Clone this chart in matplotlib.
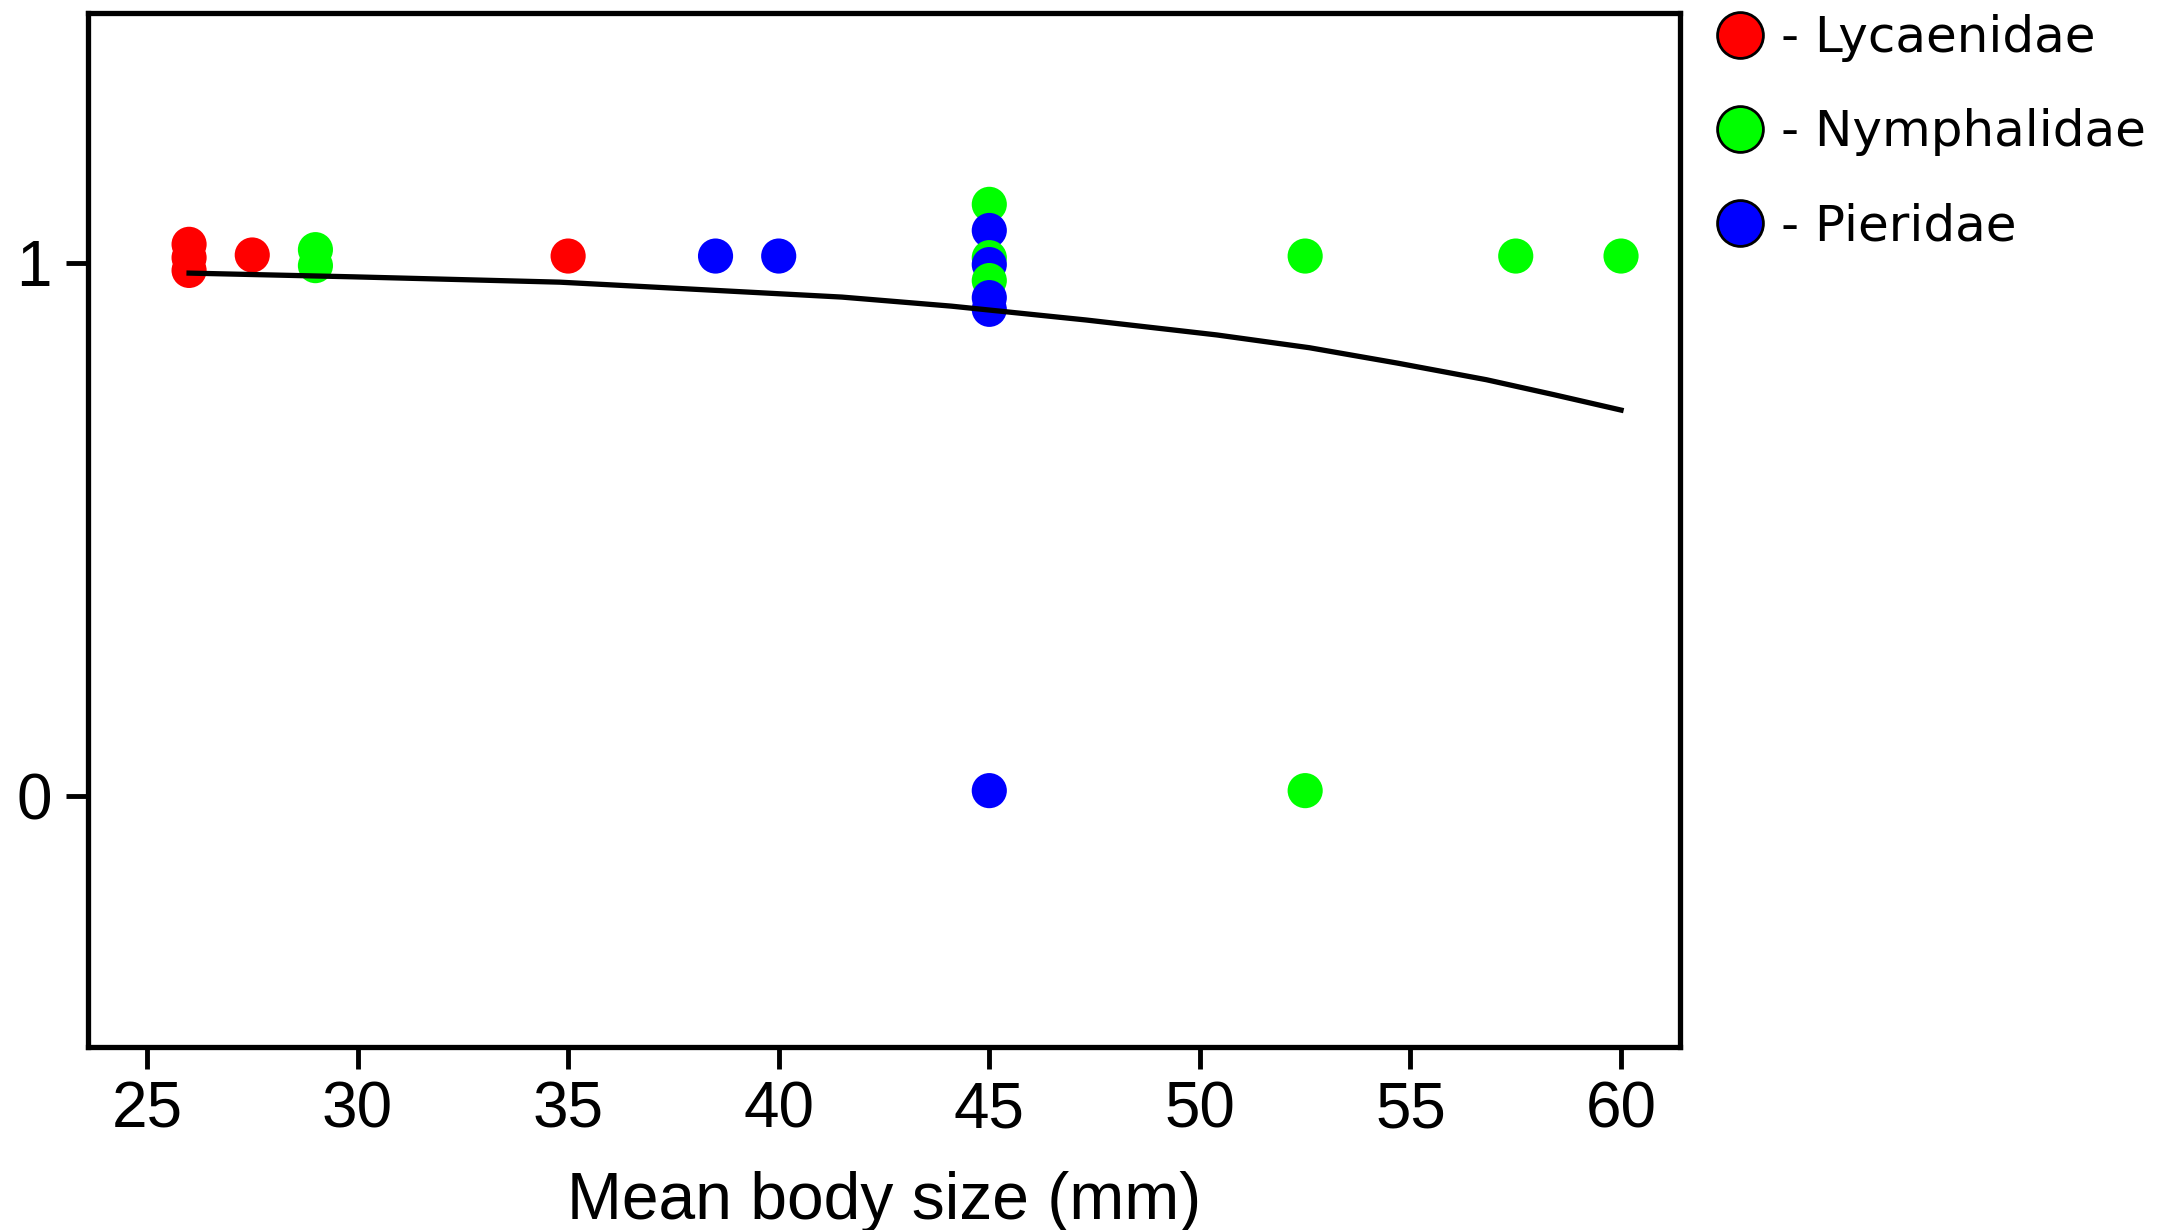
import pandas as pd
import matplotlib.pyplot as plt
from matplotlib.lines import Line2D

# body size (mm) and occurrence (0/1, slightly jittered as drawn)
lyc_x = [26, 26, 26, 27.5, 35]
lyc_y = [1.035, 1.01, 0.986, 1.015, 1.013]

nym_x = [29, 29, 45, 45, 45, 52.5, 57.5, 60, 52.5]
nym_y = [1.025, 0.995, 1.11, 1.01, 0.967, 1.013, 1.013, 1.013, 0.01]

pie_x = [38.5, 40, 45, 45, 45, 45, 45]
pie_y = [1.013, 1.013, 1.061, 0.997, 0.935, 0.913, 0.01]

# fitted curve
fit_x = [26.0, 29.9, 34.8, 38.4, 41.5, 44.1, 47.3, 50.4, 52.6, 54.7, 56.8, 58.4, 60.0]
fit_y = [0.981, 0.974, 0.964, 0.949, 0.936, 0.919, 0.893, 0.865, 0.841, 0.812, 0.781, 0.753, 0.724]

families = ['Lycaenidae', 'Nymphalidae', 'Pieridae']
colors = {'Lycaenidae': '#ff0000', 'Nymphalidae': '#00ff00', 'Pieridae': '#0000ff'}


def build_frame():
    parts = []
    for fam, xs, ys in zip(families, [lyc_x, nym_x, pie_x], [lyc_y, nym_y, pie_y]):
        parts.append(pd.DataFrame({'size': xs, 'occ': ys, 'family': fam}))
    df = pd.concat(parts, ignore_index=True)
    # lower points end up drawn on top, as in the original
    return df.sort_values('occ', ascending=False, kind='stable')


def draw(df):
    fig = plt.figure(figsize=(21.59, 12.30), dpi=100)
    ax = fig.add_axes([88 / 2159, 1 - 1047 / 1230, (1680 - 88) / 2159, (1047 - 13) / 1230])

    ax.scatter(df['size'], df['occ'], s=640, c=[colors[f] for f in df['family']],
               linewidths=0, zorder=2)
    ax.plot(fit_x, fit_y, color='black', lw=3.8, zorder=3, solid_joinstyle='round')

    ax.set_xlim(23.6, 61.4)
    ax.set_ylim(-0.471, 1.469)
    ax.set_xticks([25, 30, 35, 40, 45, 50, 55, 60])
    ax.set_yticks([0, 1])

    for sp in ax.spines.values():
        sp.set_linewidth(3.8)
    ax.tick_params(axis='both', length=16, width=3.5, labelsize=46)
    ax.tick_params(axis='x', pad=8)
    ax.tick_params(axis='y', pad=10)
    for lab in ax.get_xticklabels() + ax.get_yticklabels():
        lab.set_family('Liberation Sans')

    ax.set_xlabel('Mean body size (mm)', fontsize=47.5, family='Liberation Sans', labelpad=22)

    handles = [Line2D([], [], ls='none', marker='o', markersize=33, markerfacecolor=colors[f],
                      markeredgecolor='black', markeredgewidth=2) for f in families]
    ax.legend(handles, ['- ' + f for f in families], loc='upper left',
              bbox_to_anchor=(1.022, 0.999), frameon=False, borderpad=0, borderaxespad=0,
              handlelength=1.0, handletextpad=0.32, labelspacing=0.92,
              prop={'family': 'DejaVu Sans', 'size': 36})

    fig.savefig('out.png', dpi=100, facecolor='white')


if __name__ == "__main__":
    df = build_frame()
    draw(df)
